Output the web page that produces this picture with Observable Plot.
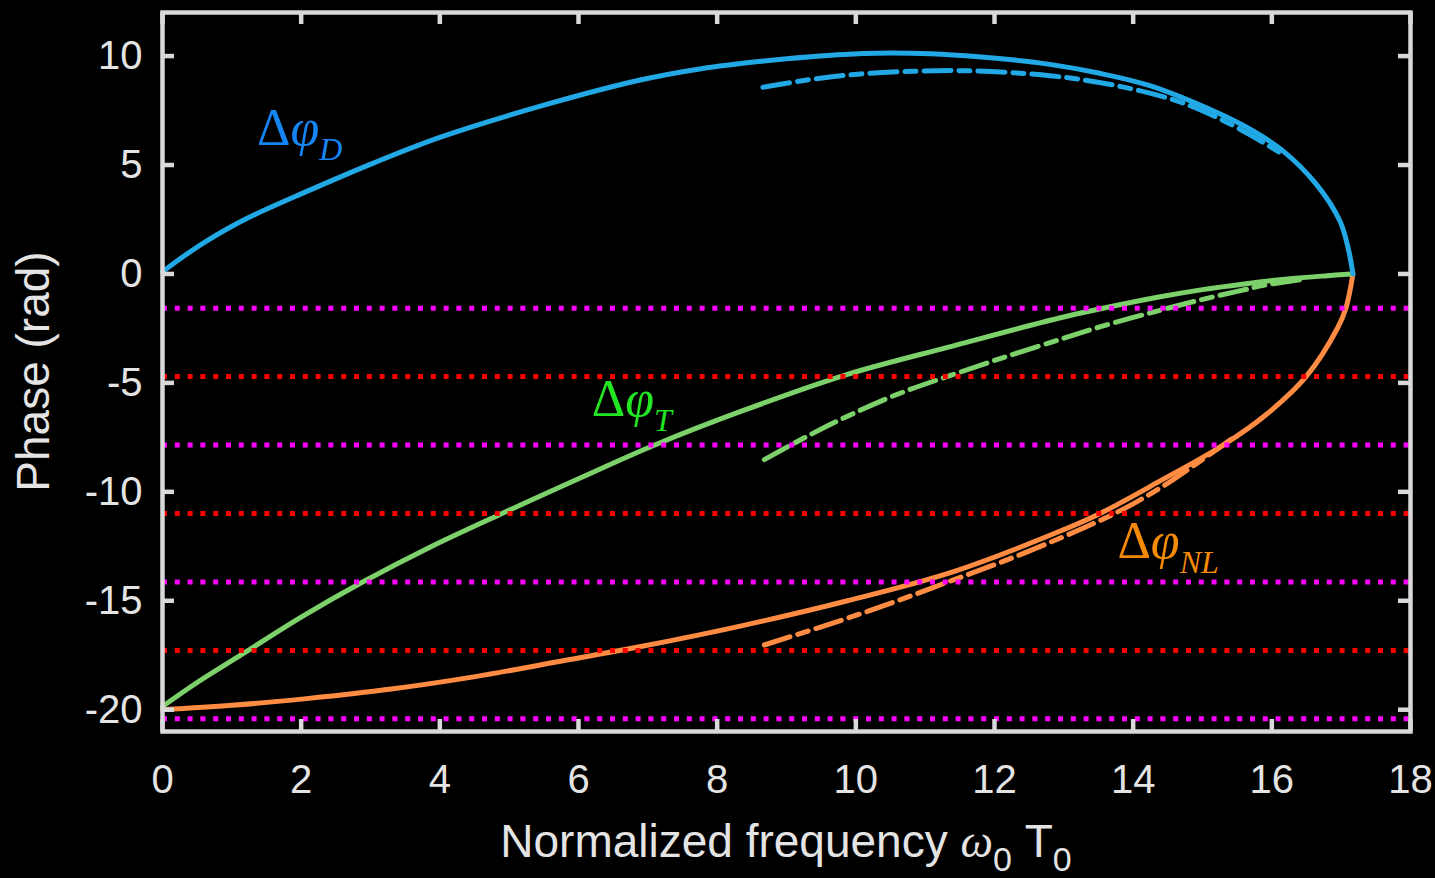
<!DOCTYPE html>
<html><head><meta charset="utf-8">
<script src="https://cdn.jsdelivr.net/npm/d3@7"></script>
<script src="https://cdn.jsdelivr.net/npm/@observablehq/plot@0.6"></script>
<style>
html,body{margin:0;padding:0;background:#000;overflow:hidden;}
</style></head><body><div id="chart"></div>
<script>
// ΔφD solid
const xD = [0, 0.3, 0.64, 1.2, 2.09, 3.05, 4.01, 5.45, 6.89, 7.77, 8.63, 9.4, 10.1, 10.8, 11.4, 12.1, 12.8, 13.5, 14.24, 15.2, 15.7, 16.16, 16.64, 16.98, 17.1, 17.17];
const yD = [0.1, 0.8, 1.52, 2.52, 3.8, 5.1, 6.28, 7.7, 8.9, 9.42, 9.76, 9.98, 10.12, 10.13, 10.05, 9.88, 9.62, 9.22, 8.64, 7.42, 6.62, 5.65, 4.12, 2.44, 1.2, 0];
// ΔφD dash-dot
const xDa = [8.66, 9.4, 10.07, 10.8, 11.5, 12.2, 12.8, 13.3, 13.76, 14.24, 14.72, 15.2, 15.68, 16.1];
const yDa = [8.57, 8.95, 9.18, 9.3, 9.33, 9.25, 9.1, 8.9, 8.64, 8.3, 7.85, 7.2, 6.4, 5.6];
// ΔφT solid
const xT = [0, 0.5, 1.15, 2.0, 2.88, 3.85, 4.85, 6.0, 7.1, 8.35, 9.88, 11.41, 12.95, 13.53, 14.39, 15.0, 15.6, 16.16, 16.8, 17.15];
const yT = [-19.85, -18.75, -17.45, -15.75, -14.15, -12.55, -11.06, -9.4, -7.85, -6.3, -4.61, -3.3, -2.01, -1.6, -1.05, -0.72, -0.46, -0.25, -0.08, 0];
// ΔφT dash-dot
const xTa = [8.68, 9.3, 9.88, 10.6, 11.41, 12.2, 12.95, 13.53, 14.29, 14.96, 15.5, 15.92, 16.5];
const yTa = [-8.52, -7.45, -6.53, -5.52, -4.61, -3.76, -3.0, -2.42, -1.75, -1.2, -0.8, -0.5, -0.22];
// ΔφNL solid
const xNL = [0, 1.0, 2.11, 3.3, 4.51, 5.7, 6.9, 8.35, 9.88, 11.41, 12.95, 13.53, 14.39, 15.3, 15.92, 16.5, 16.95, 17.07, 17.17];
const yNL = [-20.0, -19.8, -19.48, -19.05, -18.48, -17.8, -17.1, -16.15, -15.0, -13.66, -11.8, -10.98, -9.5, -7.85, -6.45, -4.69, -2.47, -1.55, 0];
// ΔφNL dash-dot
const xNLa = [8.68, 9.3, 9.88, 10.6, 11.41, 12.2, 12.95, 13.5, 14.0, 14.5, 14.96, 15.5];
const yNLa = [-17.03, -16.4, -15.8, -15.0, -14.04, -13.1, -12.12, -11.35, -10.55, -9.6, -8.6, -7.4];

// horizontal dotted levels
const magentaLevels = [-1.57, -7.85, -14.14, -20.42];
const redLevels = [-4.71, -10.99, -17.28];

const xTicks = [0, 2, 4, 6, 8, 10, 12, 14, 16, 18];
const yTicks = [-20, -15, -10, -5, 0, 5, 10];

const labelX = [1.37, 6.2, 13.78];
const labelY = [5.88, -6.53, -13.06];
const labelSub = ["D", "T", "NL"];
const labelColor = ["#1685f4", "#22e622", "#f58a07"];

const cBlue = "#22a8e4", cGreen = "#7dd16b", cOrange = "#ff8c42";
const grey = "#d9d9d9", txt = "#e4e4e4";

const pts = (xs, ys) => xs.map((x, i) => ({x, y: ys[i]}));

const W = 1435, H = 878, mL = 162, mR = 25, mT = 12, mB = 147;
const frameW = W - mL - mR, frameH = H - mT - mB;
const dashDot = "27,8,11,8";

const lineOpts = (c, dash) => ({x: "x", y: "y", stroke: c, strokeWidth: 5, curve: "catmull-rom", strokeDasharray: dash});

const chart = Plot.plot({
  width: W, height: H,
  marginLeft: mL, marginRight: mR, marginTop: mT, marginBottom: mB,
  style: {background: "#000", color: txt, fontFamily: "'Liberation Sans', Arial, sans-serif"},
  x: {domain: [0, 18]},
  y: {domain: [-21, 12]},
  marks: [
    Plot.line(pts(xNLa, yNLa), lineOpts(cOrange, dashDot)),
    Plot.line(pts(xTa, yTa), lineOpts(cGreen, dashDot)),
    Plot.line(pts(xDa, yDa), lineOpts(cBlue, dashDot)),
    Plot.line(pts(xNL, yNL), lineOpts(cOrange)),
    Plot.line(pts(xT, yT), lineOpts(cGreen)),
    Plot.line(pts(xD, yD), lineOpts(cBlue)),
    Plot.ruleY(magentaLevels, {stroke: "#ff00ff", strokeWidth: 5, strokeDasharray: "5,7.8"}),
    Plot.ruleY(redLevels, {stroke: "#ff0000", strokeWidth: 5, strokeDasharray: "5,7.8"}),
    Plot.frame({stroke: grey, strokeWidth: 4.5}),
    Plot.ruleX(xTicks, {stroke: grey, strokeWidth: 4.5, insetTop: frameH - 12}),
    Plot.ruleX(xTicks, {stroke: grey, strokeWidth: 4.5, insetBottom: frameH - 12}),
    Plot.ruleY(yTicks, {stroke: grey, strokeWidth: 4.5, insetRight: frameW - 12}),
    Plot.ruleY(yTicks, {stroke: grey, strokeWidth: 4.5, insetLeft: frameW - 12}),
    Plot.axisX(xTicks, {tickSize: 0, tickPadding: 33, fontSize: 40, label: null, fill: txt, tickFormat: d => String(d)}),
    Plot.axisY(yTicks, {tickSize: 0, tickPadding: 20, fontSize: 40, label: null, fill: txt, tickFormat: d => String(d)})
  ]
});
document.getElementById("chart").appendChild(chart);

const svg = d3.select(chart);
const sx = chart.scale("x"), sy = chart.scale("y");

// x axis label
const xl = svg.append("text")
  .attr("x", mL + frameW / 2).attr("y", 857)
  .attr("text-anchor", "middle").attr("fill", txt)
  .style("font-family", "'Liberation Sans', Arial, sans-serif").style("font-size", "46px");
xl.append("tspan").text("Normalized frequency ");
xl.append("tspan").style("font-family", "'Liberation Serif', 'Times New Roman', serif").style("font-style", "italic").text("ω");
xl.append("tspan").attr("dy", 14).style("font-size", "34px").text("0");
xl.append("tspan").attr("dy", -14).text(" T");
xl.append("tspan").attr("dy", 14).style("font-size", "34px").text("0");

// y axis label
svg.append("text")
  .attr("transform", `translate(49,${mT + frameH / 2}) rotate(-90)`)
  .attr("text-anchor", "middle").attr("fill", txt)
  .style("font-family", "'Liberation Sans', Arial, sans-serif").style("font-size", "46px")
  .text("Phase (rad)");

// curve annotations
labelX.forEach((lx, i) => {
  const t = svg.append("text")
    .attr("x", sx.apply(lx)).attr("y", sy.apply(labelY[i]))
    .attr("text-anchor", "start")
    .attr("fill", labelColor[i])
    .style("font-family", "'Liberation Serif', 'Times New Roman', serif").style("font-size", "52px");
  t.append("tspan").text("Δ");
  t.append("tspan").style("font-style", "italic").text("φ");
  t.append("tspan").attr("dy", 15).style("font-style", "italic").style("font-size", "32px").text(labelSub[i]);
});
</script>
</body></html>
